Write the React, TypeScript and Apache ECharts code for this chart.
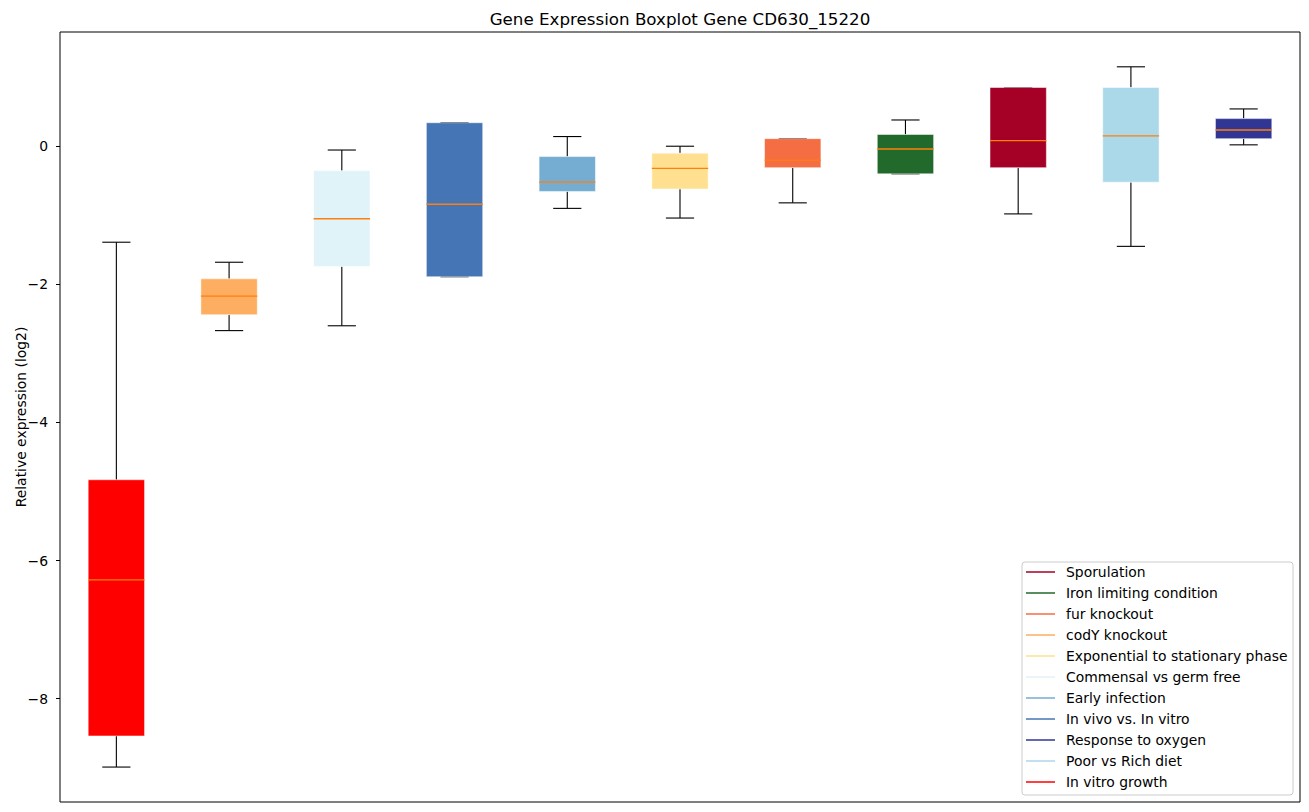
import React, { useEffect, useRef } from "react";
import * as echarts from "echarts";

// Boxes in plotting order
const categories = [
  "In vitro growth",
  "codY knockout",
  "Commensal vs germ free",
  "In vivo vs. In vitro",
  "Early infection",
  "Exponential to stationary phase",
  "fur knockout",
  "Iron limiting condition",
  "Sporulation",
  "Poor vs Rich diet",
  "Response to oxygen",
];
const boxColors = [
  "#ff0000",
  "#fdae61",
  "#e0f3f8",
  "#4575b4",
  "#74add1",
  "#fee090",
  "#f46d43",
  "#226a2b",
  "#a50026",
  "#abd9e9",
  "#313695",
];
const whiskerLow = [-8.99, -2.67, -2.6, -1.89, -0.9, -1.04, -0.82, -0.4, -0.98, -1.45, 0.02];
const q1 = [-8.54, -2.44, -1.74, -1.89, -0.655, -0.62, -0.31, -0.4, -0.31, -0.52, 0.11];
const median = [-6.28, -2.17, -1.05, -0.84, -0.52, -0.32, -0.2, -0.04, 0.08, 0.15, 0.235];
const q3 = [-4.83, -1.92, -0.355, 0.34, -0.15, -0.1, 0.11, 0.17, 0.85, 0.85, 0.4];
const whiskerHigh = [-1.39, -1.68, -0.055, 0.34, 0.14, 0.0, 0.11, 0.38, 0.85, 1.15, 0.54];

const legendOrder = [
  "Sporulation",
  "Iron limiting condition",
  "fur knockout",
  "codY knockout",
  "Exponential to stationary phase",
  "Commensal vs germ free",
  "Early infection",
  "In vivo vs. In vitro",
  "Response to oxygen",
  "Poor vs Rich diet",
  "In vitro growth",
];
const yTicks = [-8, -6, -4, -2, 0];

const FONT = "DejaVu Sans";

export default function App() {
  const ref = useRef<HTMLDivElement>(null);
  useEffect(() => {
    if (!ref.current) return;
    const chart = echarts.init(ref.current, undefined, { renderer: "svg" });

    const data = categories.map((_, i) => [
      i + 1,
      whiskerLow[i],
      q1[i],
      median[i],
      q3[i],
      whiskerHigh[i],
    ]);

    const legendLeft = 1022;
    const legendTop = 562;
    const legendW = 271;
    const legendH = 233;
    const rowGap = 21;
    const legendGraphics: any[] = [
      {
        type: "rect",
        shape: { x: legendLeft, y: legendTop, width: legendW, height: legendH, r: 3 },
        style: { fill: "rgba(255,255,255,0.8)", stroke: "#cccccc", lineWidth: 1 },
        z: 100,
      },
    ];
    legendOrder.forEach((name, k) => {
      const idx = categories.indexOf(name);
      const y = legendTop + 10 + k * rowGap;
      legendGraphics.push({
        type: "line",
        shape: { x1: legendLeft + 4, y1: y, x2: legendLeft + 33, y2: y },
        style: { stroke: boxColors[idx], lineWidth: 1.5 },
        z: 101,
      });
      legendGraphics.push({
        type: "text",
        x: legendLeft + 44,
        y: y,
        style: {
          text: name,
          fill: "#000",
          fontSize: 13.9,
          fontFamily: FONT,
          verticalAlign: "middle",
          align: "left",
        },
        z: 101,
      });
    });

    chart.setOption({
      animation: false,
      grid: {
        left: 60,
        top: 32,
        right: 9,
        bottom: 10,
        outerBoundsMode: "none",
        containLabel: false,
        show: true,
        borderColor: "#000",
        borderWidth: 1,
        backgroundColor: "transparent",
      },
      xAxis: {
        type: "value",
        min: 0.5,
        max: 11.5,
        show: false,
      },
      yAxis: {
        type: "value",
        min: -9.496,
        max: 1.654,
        name: "Relative expression (log2)",
        nameLocation: "middle",
        nameRotate: 90,
        nameGap: 32,
        nameMoveOverlap: false,
        nameTextStyle: { fontSize: 13.9, fontFamily: FONT, color: "#000" },
        axisLine: { show: false },
        splitLine: { show: false },
        axisTick: {
          show: true,
          length: 4,
          customValues: yTicks,
          lineStyle: { color: "#000", width: 1 },
        },
        axisLabel: {
          customValues: yTicks,
          color: "#000",
          fontSize: 13.9,
          fontFamily: FONT,
          margin: 12,
          formatter: (v: number) => (v < 0 ? "\u2212" + Math.abs(v) : String(v)),
        },
      },
      graphic: [
        {
          type: "text",
          x: 680,
          y: 18.5,
          style: {
            text: "Gene Expression Boxplot Gene CD630_15220",
            fill: "#000",
            fontSize: 16.7,
            fontFamily: FONT,
            align: "center",
            verticalAlign: "middle",
          },
        },
        ...legendGraphics,
      ],
      series: [
        {
          type: "custom",
          data,
          encode: { x: 0, y: [1, 2, 3, 4, 5] },
          renderItem: (params: any, api: any) => {
            const x = api.value(0);
            const pLow = api.coord([x, api.value(1)]);
            const pQ1 = api.coord([x, api.value(2)]);
            const pMed = api.coord([x, api.value(3)]);
            const pQ3 = api.coord([x, api.value(4)]);
            const pHigh = api.coord([x, api.value(5)]);
            const halfW = api.size([0.5, 0])[0] / 2;
            const capHalf = api.size([0.25, 0])[0] / 2;
            const cx = pMed[0];
            const color = boxColors[params.dataIndex];
            const black = { stroke: "#000", lineWidth: 1.1 };
            return {
              type: "group",
              children: [
                { type: "line", shape: { x1: cx, y1: pQ1[1], x2: cx, y2: pLow[1] }, style: black },
                { type: "line", shape: { x1: cx, y1: pQ3[1], x2: cx, y2: pHigh[1] }, style: black },
                { type: "line", shape: { x1: cx - capHalf, y1: pLow[1], x2: cx + capHalf, y2: pLow[1] }, style: black },
                { type: "line", shape: { x1: cx - capHalf, y1: pHigh[1], x2: cx + capHalf, y2: pHigh[1] }, style: black },
                {
                  type: "rect",
                  shape: { x: cx - halfW, y: pQ3[1], width: 2 * halfW, height: pQ1[1] - pQ3[1] },
                  style: { fill: color, stroke: "rgba(255,255,255,0.5)", lineWidth: 1 },
                },
                {
                  type: "line",
                  shape: { x1: cx - halfW, y1: pMed[1], x2: cx + halfW, y2: pMed[1] },
                  style: { stroke: "#ff7f0e", lineWidth: 1.3 },
                },
              ],
            };
          },
        },
      ],
    });
    return () => chart.dispose();
  }, []);
  return (
    <div
      ref={ref}
      style={{ position: "absolute", left: 0, top: 0, width: 1309, height: 812, background: "#fff" }}
    />
  );
}
